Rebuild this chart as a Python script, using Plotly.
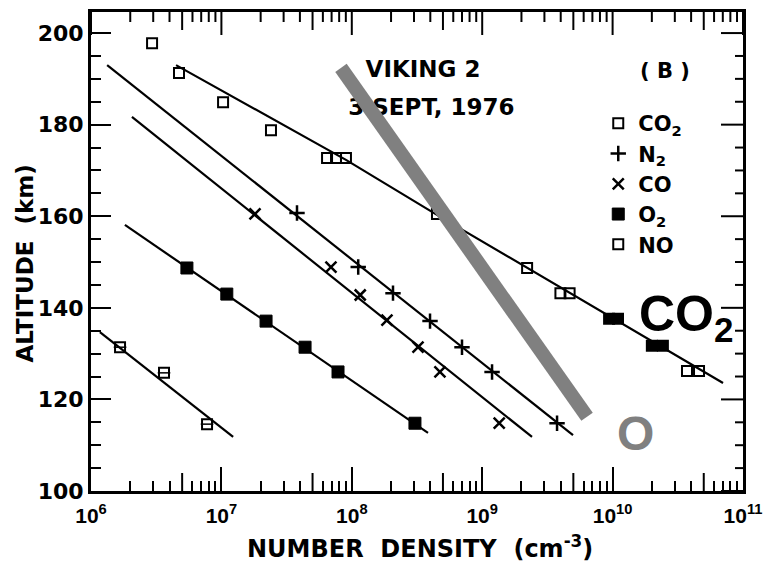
import plotly.graph_objects as go

# ---- measured number densities (cm^-3) vs altitude (km) ----
co2_alt = [197.8, 191.3, 184.9, 178.8, 172.7, 172.7, 172.7, 160.5, 148.7,
           143.2, 143.2, 137.6, 137.6, 131.7, 131.7, 126.2, 126.2]
co2_dens = [2.94e6, 4.73e6, 1.03e7, 2.40e7, 6.46e7, 7.57e7, 9.02e7, 4.50e8, 2.21e9,
            3.98e9, 4.68e9, 9.4e9, 1.10e10, 2.00e10, 2.43e10, 3.72e10, 4.60e10]
co2_filled = [False] * 11 + [True] * 4 + [False] * 2

n2_alt = [160.7, 148.9, 143.2, 137.1, 131.4, 126.0, 114.8]
n2_dens = [3.80e7, 1.12e8, 2.07e8, 3.98e8, 7.00e8, 1.19e9, 3.75e9]

co_alt = [160.5, 148.9, 142.8, 137.3, 131.4, 126.0, 114.8]
co_dens = [1.81e7, 6.92e7, 1.16e8, 1.86e8, 3.22e8, 4.74e8, 1.35e9]

o2_alt = [148.7, 143.0, 137.1, 131.4, 126.0, 114.8]
o2_dens = [5.44e6, 1.10e7, 2.20e7, 4.38e7, 7.84e7, 3.05e8]

no_alt = [131.4, 125.8, 114.6]
no_dens = [1.67e6, 3.63e6, 7.76e6]

# ---- fitted profiles ----
co2_fit_alt = [193.0, 172.3, 160.3, 148.7, 123.6]
co2_fit_dens = [4.49e6, 9.02e7, 4.50e8, 2.21e9, 7.03e10]
n2_fit_alt = [193.0, 112.2]
n2_fit_dens = [1.33e6, 4.97e9]
co_fit_alt = [181.7, 111.8]
co_fit_dens = [2.06e6, 2.41e9]
o2_fit_alt = [158.1, 112.7]
o2_fit_dens = [1.82e6, 3.84e8]
no_fit_alt = [134.7, 111.8]
no_fit_dens = [1.17e6, 1.23e7]

# ---- atomic oxygen profile (grey band) ----
o_alt = [192.4, 116.2]
o_dens = [8.26e7, 6.37e9]

# ---- axes ----
x_major = [1e6, 1e7, 1e8, 1e9, 1e10, 1e11]
x_major_text = ["10<sup>6</sup>", "10<sup>7</sup>", "10<sup>8</sup>",
                "10<sup>9</sup>", "10<sup>10</sup>", "10<sup>11</sup>"]
x_minor = [m * 10 ** e for e in range(6, 11) for m in (2, 3, 4, 6, 7, 8, 9)]
x_half = [5 * 10 ** e for e in range(6, 11)]
y_major = [100, 120, 140, 160, 180, 200]
y_minor = [v for v in range(105, 205, 5) if v % 20 != 0]
x_range = [6, 11]
y_range = [100, 204.6]

FONT = "DejaVu Sans"
BLACK = "black"
GREY = "#808080"

W, H = 765, 563
M = dict(l=91, r=22, t=12, b=72)
px_per_decade = (W - M["l"] - M["r"]) / (x_range[1] - x_range[0])
px_per_km = (H - M["t"] - M["b"]) / (y_range[1] - y_range[0])

fig = go.Figure()

# frame ticks on the top and right edges, plus mid-decade ticks at the bottom
tx, ty = [], []
y_top, y_bot = y_range[1], y_range[0]
for vals, length in [(x_major, 23), (x_minor, 10), (x_half, 18)]:
    for v in vals:
        tx += [v, v, None]
        ty += [y_top, y_top - length / px_per_km, None]
for v in x_half:
    tx += [v, v, None]
    ty += [y_bot, y_bot + 18 / px_per_km, None]
x_right = 10 ** x_range[1]
for vals, length in [(y_major, 22), (y_minor, 8)]:
    for v in vals:
        tx += [x_right, 10 ** (x_range[1] - length / px_per_decade), None]
        ty += [v, v, None]
fig.add_trace(go.Scatter(x=tx, y=ty, mode="lines", line=dict(color=BLACK, width=2),
                         showlegend=False, hoverinfo="skip"))

line_style = dict(color=BLACK, width=2.2)
for dens, alt in [(co2_fit_dens, co2_fit_alt), (n2_fit_dens, n2_fit_alt),
                  (co_fit_dens, co_fit_alt), (o2_fit_dens, o2_fit_alt),
                  (no_fit_dens, no_fit_alt)]:
    fig.add_trace(go.Scatter(x=dens, y=alt, mode="lines", line=line_style,
                             showlegend=False, hoverinfo="skip"))

fig.add_trace(go.Scatter(
    x=co2_dens, y=co2_alt, mode="markers", name="CO<sub>2</sub>",
    marker=dict(symbol=["square" if f else "square-open" for f in co2_filled],
                size=10, color=BLACK, line=dict(color=BLACK, width=2))))
fig.add_trace(go.Scatter(
    x=n2_dens, y=n2_alt, mode="markers", name="N<sub>2</sub>",
    marker=dict(symbol="cross-thin-open", size=11, color=BLACK,
                line=dict(color=BLACK, width=2.5))))
fig.add_trace(go.Scatter(
    x=co_dens, y=co_alt, mode="markers", name="CO",
    marker=dict(symbol="x-thin-open", size=11, color=BLACK,
                line=dict(color=BLACK, width=2.5))))
fig.add_trace(go.Scatter(
    x=o2_dens, y=o2_alt, mode="markers", name="O<sub>2</sub>",
    marker=dict(symbol="square", size=12, color=BLACK,
                line=dict(color=BLACK, width=1))))
fig.add_trace(go.Scatter(
    x=no_dens, y=no_alt, mode="markers", name="NO",
    marker=dict(symbol="square-open", size=10, color=BLACK,
                line=dict(color=BLACK, width=2))))
fig.add_trace(go.Scatter(
    x=no_dens, y=no_alt, mode="markers", showlegend=False, hoverinfo="skip",
    marker=dict(symbol="line-ew-open", size=9, color=BLACK,
                line=dict(color=BLACK, width=1.5))))

# heading text sits under the grey band
fig.add_trace(go.Scatter(
    x=[3.52e8, 4.08e8], y=[191.7, 183.4], mode="text",
    text=["VIKING 2", "3 SEPT, 1976"], textposition="middle center",
    textfont=dict(family=FONT, size=23, color=BLACK, weight="bold"),
    showlegend=False, hoverinfo="skip"))

fig.add_trace(go.Scatter(
    x=o_dens, y=o_alt, mode="lines",
    line=dict(color=GREY, width=14), showlegend=False, hoverinfo="skip"))

fig.update_layout(
    width=W, height=H,
    margin=M,
    paper_bgcolor="white", plot_bgcolor="white",
    font=dict(family=FONT, color=BLACK),
    xaxis=dict(type="log", range=x_range, showgrid=False, zeroline=False,
               automargin=False,
               showline=True, linewidth=2.8, linecolor=BLACK, mirror=True,
               ticks="inside", ticklen=24, tickwidth=2, tickcolor=BLACK,
               tickvals=x_major, ticktext=x_major_text,
               ticklabeloverflow="allow", ticklabelstandoff=4,
               tickfont=dict(family="Liberation Sans", size=21, color=BLACK,
                             weight="bold"),
               minor=dict(tickvals=x_minor, ticks="inside", ticklen=10,
                          tickwidth=2, tickcolor=BLACK, showgrid=False)),
    yaxis=dict(range=y_range, showgrid=False, zeroline=False, automargin=False,
               showline=True, linewidth=2.8, linecolor=BLACK, mirror=True,
               ticks="inside", ticklen=20, tickwidth=2, tickcolor=BLACK,
               tickvals=y_major,
               tickfont=dict(family=FONT, size=22, color=BLACK, weight="bold"),
               minor=dict(tickvals=y_minor, ticks="inside", ticklen=10,
                          tickwidth=2, tickcolor=BLACK, showgrid=False)),
    legend=dict(x=0.778, xanchor="left", y=0.810, yanchor="top",
                bgcolor="rgba(0,0,0,0)", borderwidth=0, tracegroupgap=0,
                font=dict(family=FONT, size=21, color=BLACK, weight="bold")),
    annotations=[
        dict(text="( B )", x=0.880, y=0.876, xref="paper", yref="paper",
             showarrow=False, xanchor="center", yanchor="middle",
             font=dict(family=FONT, size=21, color=BLACK, weight="bold")),
        dict(text="CO<sub>2</sub>", x=0.837, y=0.362, xref="paper", yref="paper",
             showarrow=False, xanchor="left", yanchor="middle",
             font=dict(family="Liberation Sans", size=50, color=BLACK, weight="bold")),
        dict(text="O", x=0.835, y=0.120, xref="paper", yref="paper",
             showarrow=False, xanchor="center", yanchor="middle",
             font=dict(family="Liberation Sans", size=48, color=GREY, weight="bold")),
        dict(text="ALTITUDE  (km)", x=-0.101, y=0.475, xref="paper", yref="paper",
             showarrow=False, textangle=-90, xanchor="center", yanchor="middle",
             font=dict(family=FONT, size=23, color=BLACK, weight="bold")),
        dict(text="NUMBER  DENSITY  (cm<sup>-3</sup>)", x=0.505, y=-0.117,
             xref="paper", yref="paper", showarrow=False,
             xanchor="center", yanchor="middle",
             font=dict(family=FONT, size=24, color=BLACK, weight="bold")),
    ],
)

fig.write_html("out.html")
